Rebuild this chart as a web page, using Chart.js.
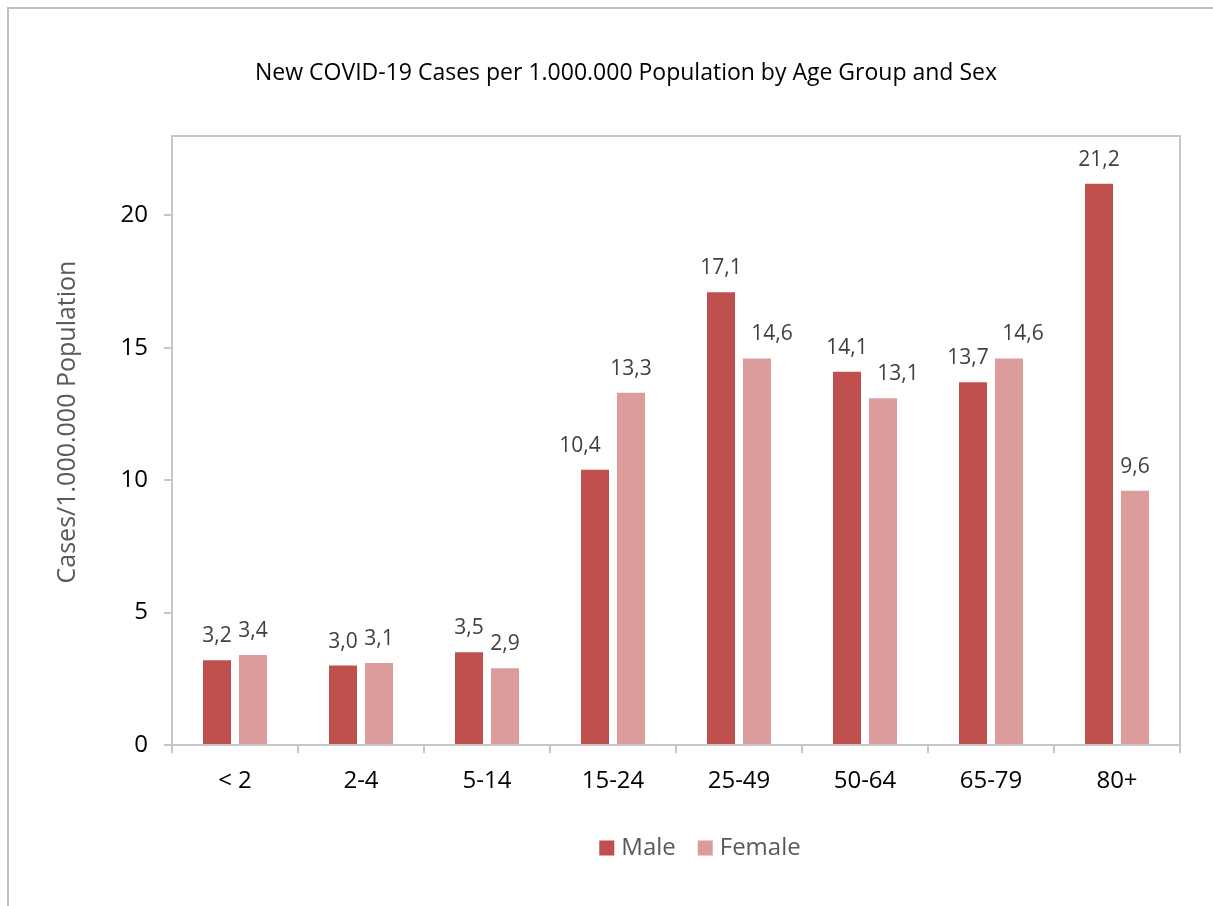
<!DOCTYPE html>
<html>
<head>
<meta charset="utf-8">
<script src="https://cdn.jsdelivr.net/npm/chart.js@4/dist/chart.umd.min.js"></script>
<style>
  html, body { margin: 0; padding: 0; background: #ffffff; }
  #wrap { position: relative; width: 1213px; height: 906px; }
  canvas { display: block; }
</style>
</head>
<body>
<div id="wrap"><canvas id="c" width="1213" height="906"></canvas></div>
<script>
// ---- Data ----
const categories = ['< 2', '2-4', '5-14', '15-24', '25-49', '50-64', '65-79', '80+'];
const maleValues = [3.2, 3.0, 3.5, 10.4, 17.1, 14.1, 13.7, 21.2];
const femaleValues = [3.4, 3.1, 2.9, 13.3, 14.6, 13.1, 14.6, 9.6];
const yTickValues = [0, 5, 10, 15, 20];
const seriesNames = ['Male', 'Female'];
const chartTitle = 'New COVID-19 Cases per 1.000.000 Population by Age Group and Sex';
const yAxisTitle = 'Cases/1.000.000 Population';

// ---- Style ----
const FONT = "'Open Sans', 'Noto Sans', sans-serif";
const COLORS = ['#C0504D', '#DD9C9C'];
const AXIS_GRAY = '#C6C6C6';
// small horizontal nudges of the value labels (px), as in the original layout
const labelNudge = [
  [0, 0, 0, -15, 0, 0, -5, 0],
  [0, 0, 0, 0, 15, 15, 14, 0]
];

const decoPlugin = {
  id: 'deco',
  beforeDraw(chart) {
    const ctx = chart.ctx;
    ctx.save();
    ctx.fillStyle = '#ffffff';
    ctx.fillRect(0, 0, chart.width, chart.height);
    // outer frame
    ctx.strokeStyle = '#BFBFBF';
    ctx.lineWidth = 2;
    ctx.beginPath();
    ctx.moveTo(8, chart.height + 2);
    ctx.lineTo(8, 8);
    ctx.lineTo(chart.width + 2, 8);
    ctx.stroke();
    // title
    ctx.fillStyle = '#000000';
    ctx.font = '23px ' + FONT;
    ctx.textAlign = 'center';
    ctx.textBaseline = 'middle';
    ctx.fillText(chartTitle, 626, 73);
    // y axis title
    ctx.save();
    ctx.translate(68, 422);
    ctx.rotate(-Math.PI / 2);
    ctx.fillStyle = '#595959';
    ctx.font = '25px ' + FONT;
    ctx.fillText(yAxisTitle, 0, 0);
    ctx.restore();
    ctx.restore();
  },
  beforeDatasetsDraw(chart) {
    const ctx = chart.ctx;
    const a = chart.chartArea;
    ctx.save();
    ctx.strokeStyle = AXIS_GRAY;
    ctx.lineWidth = 2;
    ctx.beginPath();
    ctx.moveTo(a.left, a.top);
    ctx.lineTo(a.right, a.top);
    ctx.lineTo(a.right, a.bottom);
    ctx.stroke();
    ctx.restore();
  },
  afterDatasetsDraw(chart) {
    const ctx = chart.ctx;
    ctx.save();
    ctx.font = '21px ' + FONT;
    ctx.fillStyle = '#404040';
    ctx.textAlign = 'center';
    ctx.textBaseline = 'middle';
    chart.data.datasets.forEach((ds, di) => {
      const meta = chart.getDatasetMeta(di);
      meta.data.forEach((bar, i) => {
        const txt = ds.data[i].toFixed(1).replace('.', ',');
        ctx.fillText(txt, bar.x + labelNudge[di][i], bar.y - 24);
      });
    });
    // legend
    const items = seriesNames.map((n, i) => ({ n, c: COLORS[i] }));
    ctx.font = '24px ' + FONT;
    ctx.textAlign = 'left';
    const box = 15, gapBox = 7, gapItem = 22;
    let total = 0;
    items.forEach((it, i) => {
      total += box + gapBox + ctx.measureText(it.n).width + (i < items.length - 1 ? gapItem : 0);
    });
    let x = 700 - total / 2;
    const ly = 848;
    items.forEach(it => {
      ctx.fillStyle = it.c;
      ctx.fillRect(x, ly - box / 2, box, box);
      x += box + gapBox;
      ctx.fillStyle = '#595959';
      ctx.fillText(it.n, x, ly);
      x += ctx.measureText(it.n).width + gapItem;
    });
    ctx.restore();
  }
};

new Chart(document.getElementById('c'), {
  type: 'bar',
  data: {
    labels: categories,
    datasets: [
      { label: seriesNames[0], data: maleValues, backgroundColor: COLORS[0] },
      { label: seriesNames[1], data: femaleValues, backgroundColor: COLORS[1] }
    ]
  },
  options: {
    responsive: false,
    animation: false,
    devicePixelRatio: 1,
    layout: { padding: { left: 0, right: 33, top: 136, bottom: 0 } },
    datasets: { bar: { categoryPercentage: 72 / 126, barPercentage: 28 / 36 } },
    plugins: { legend: { display: false }, title: { display: false }, tooltip: { enabled: false } },
    scales: {
      x: {
        offset: true,
        afterFit(s) { s.height = 161; },
        grid: { display: true, drawOnChartArea: false, drawTicks: true, tickLength: 8, offset: true, color: AXIS_GRAY, lineWidth: 2 },
        border: { display: true, color: AXIS_GRAY, width: 2 },
        ticks: { color: '#000000', font: { family: FONT, size: 24 }, padding: 14, maxRotation: 0 }
      },
      y: {
        min: 0,
        max: 23,
        afterFit(s) { s.width = 172; },
        afterBuildTicks(s) { s.ticks = yTickValues.map(v => ({ value: v })); },
        grid: { display: true, drawOnChartArea: false, drawTicks: true, tickLength: 8, color: AXIS_GRAY, lineWidth: 2 },
        border: { display: true, color: AXIS_GRAY, width: 2 },
        ticks: { color: '#000000', font: { family: FONT, size: 24 }, padding: 16, callback: v => String(v) }
      }
    }
  },
  plugins: [decoPlugin]
});
</script>
</body>
</html>
